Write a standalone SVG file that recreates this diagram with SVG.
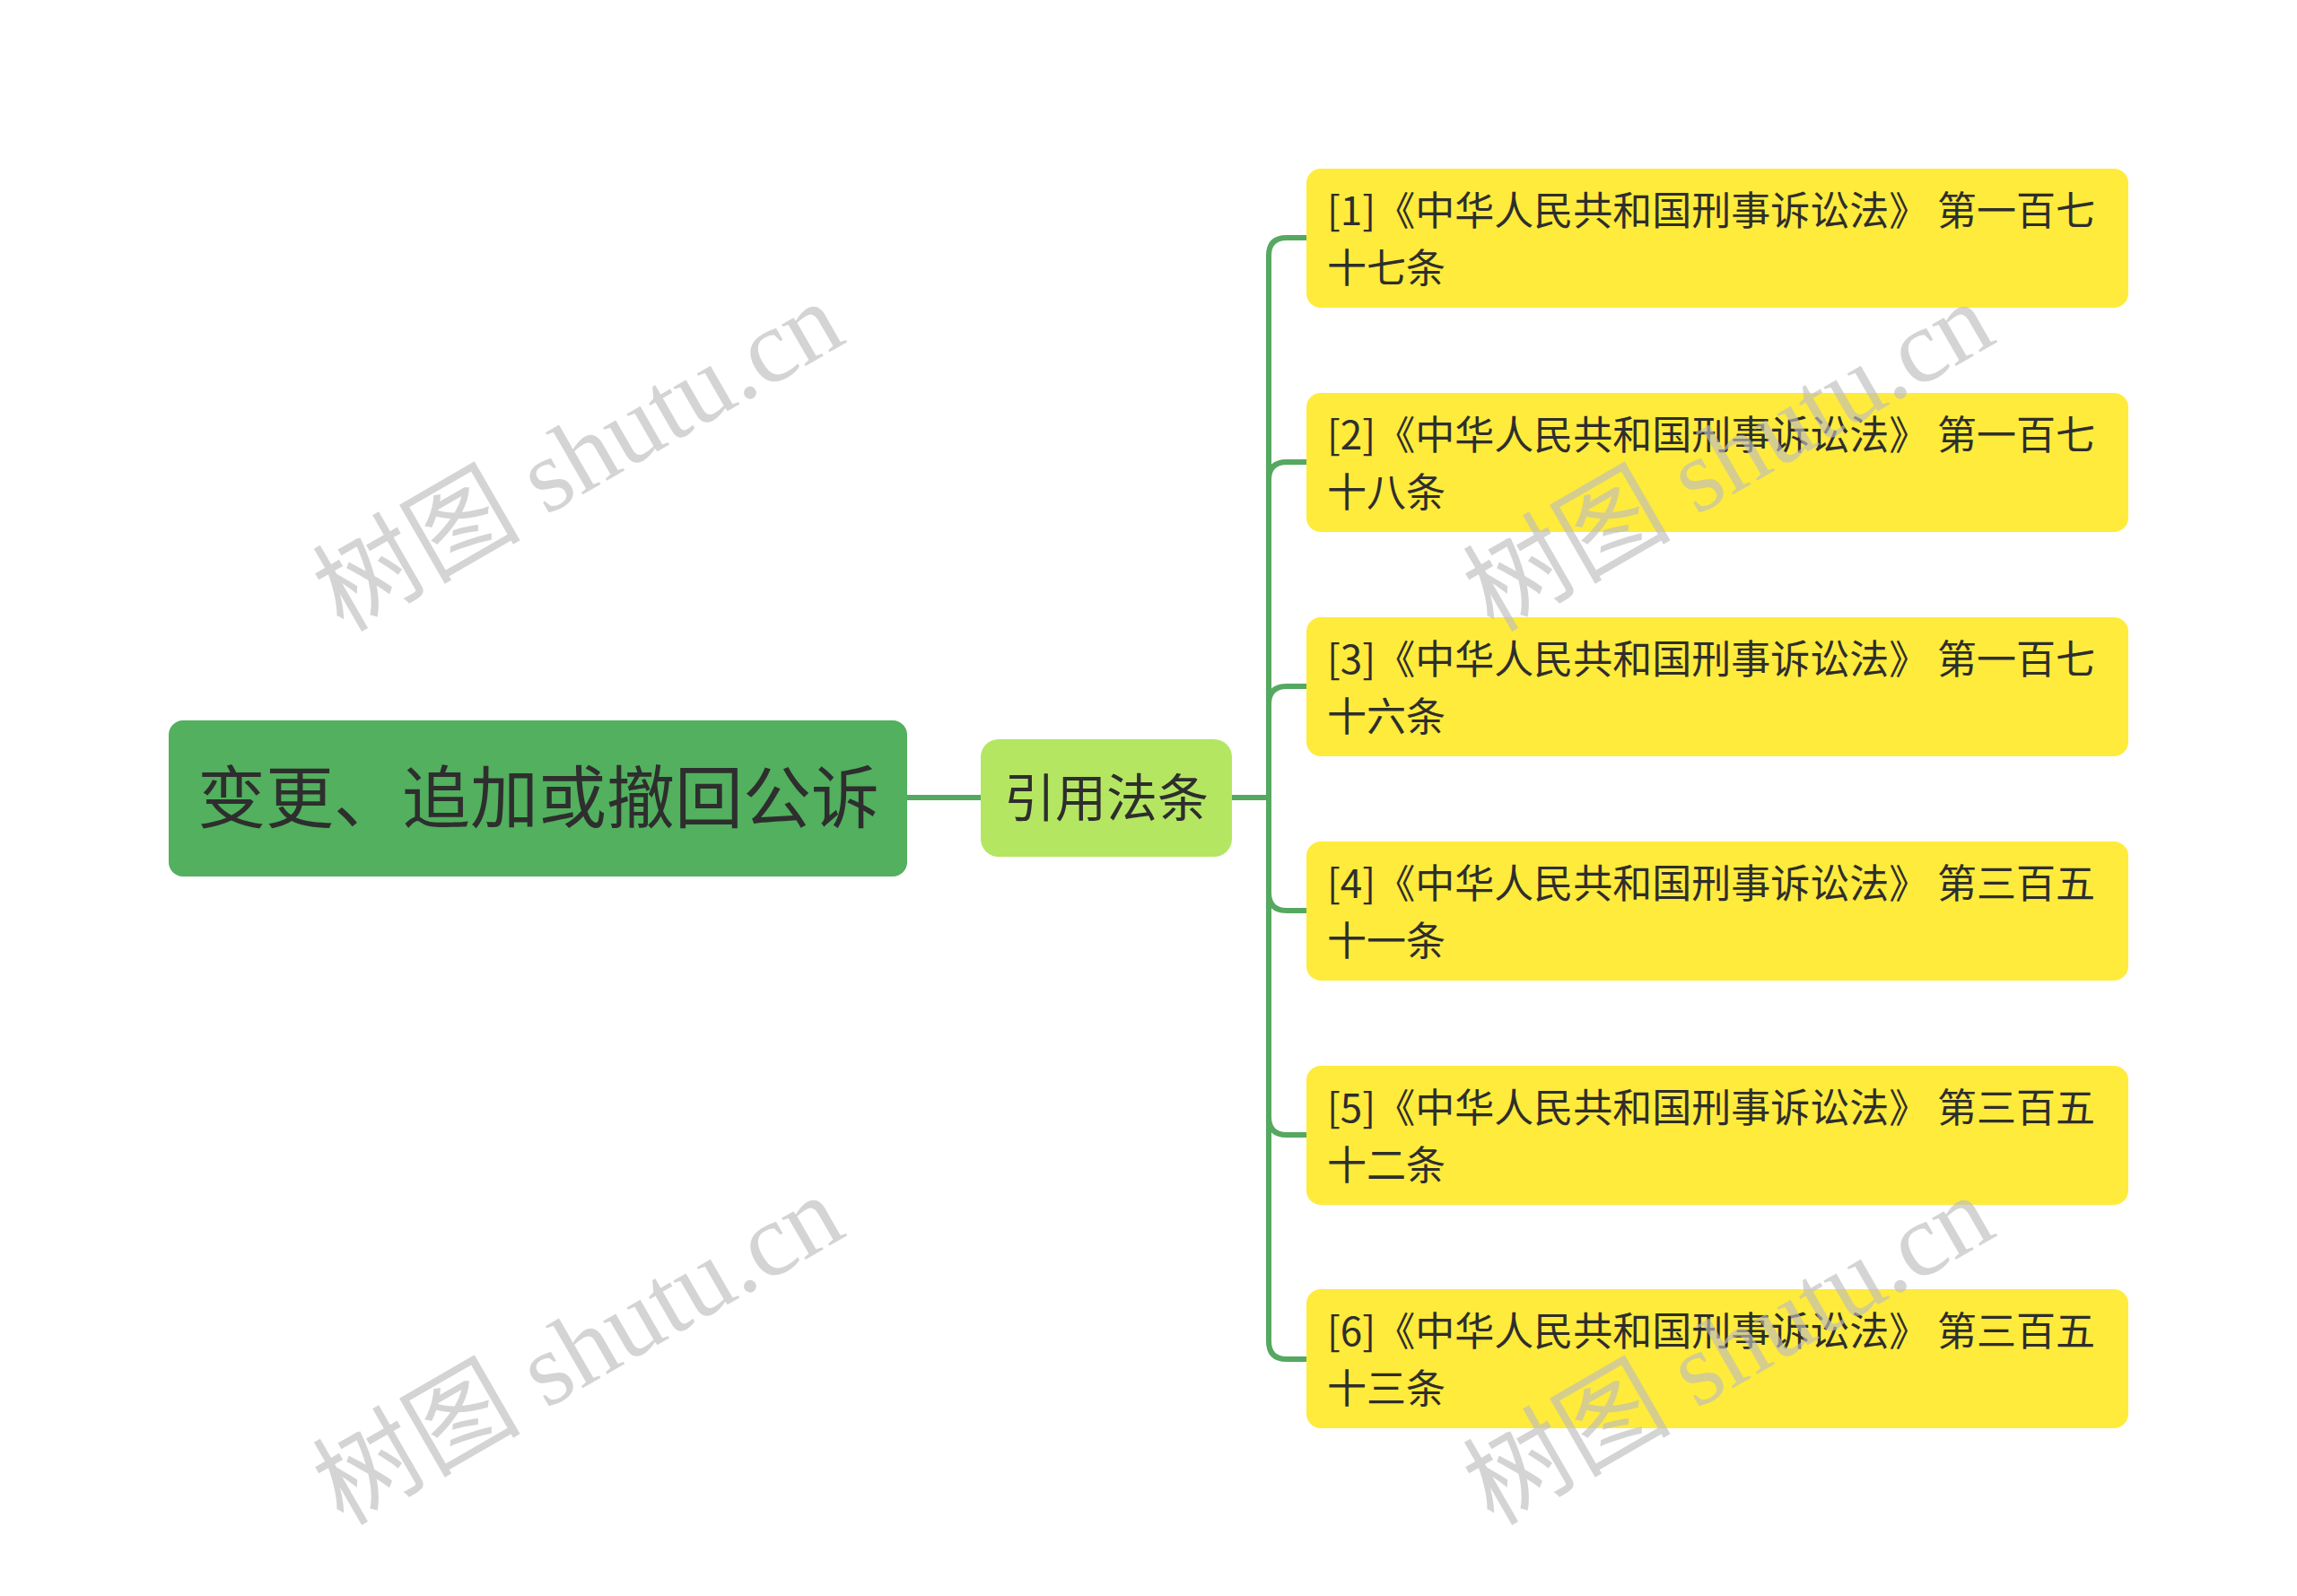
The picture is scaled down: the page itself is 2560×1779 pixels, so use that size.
<svg xmlns="http://www.w3.org/2000/svg" width="2560" height="1779" viewBox="0 0 2560 1779">
<style>
.t{font-family:"Noto Sans CJK SC","Noto Sans",sans-serif;fill:#2e2e2e}
.leaf rect{fill:#ffeb3b}
.leaf text{font-size:44px}
.conn{fill:none;stroke:#55a860;stroke-width:6}
.wm{font-family:"Liberation Serif","Noto Sans CJK SC",serif;font-size:116px;fill:#bdbdbd;fill-opacity:0.65}
</style>
<rect width="2560" height="1779" fill="#ffffff"/>
<g id="connectors" class="conn">
<path d="M1011,889 H1093"/>
<path d="M1373,889 H1414"/>
<path d="M1414,889 V285 Q1414,265 1434,265 H1456"/>
<path d="M1414,889 V535 Q1414,515 1434,515 H1456"/>
<path d="M1414,889 V785 Q1414,765 1434,765 H1456"/>
<path d="M1414,889 V995 Q1414,1015 1434,1015 H1456"/>
<path d="M1414,889 V1245 Q1414,1265 1434,1265 H1456"/>
<path d="M1414,889 V1495 Q1414,1515 1434,1515 H1456"/>
</g>
<g id="root">
<rect x="188" y="803" width="823" height="174" rx="16" fill="#52b05e"/>
<text class="t" x="600" y="917" font-size="76" text-anchor="middle">变更、追加或撤回公诉</text>
</g>
<g id="mid">
<rect x="1093" y="824" width="280" height="131" rx="20" fill="#b4e662"/>
<text class="t" x="1233" y="910" font-size="57" text-anchor="middle">引用法条</text>
</g>
<g id="leaf1" class="leaf">
<rect x="1456" y="188" width="916" height="155" rx="16"/>
<text class="t" x="1479" y="251">[1]《中华人民共和国刑事诉讼法》 第一百七</text>
<text class="t" x="1479" y="315">十七条</text>
</g>
<g id="leaf2" class="leaf">
<rect x="1456" y="438" width="916" height="155" rx="16"/>
<text class="t" x="1479" y="501">[2]《中华人民共和国刑事诉讼法》 第一百七</text>
<text class="t" x="1479" y="565">十八条</text>
</g>
<g id="leaf3" class="leaf">
<rect x="1456" y="688" width="916" height="155" rx="16"/>
<text class="t" x="1479" y="751">[3]《中华人民共和国刑事诉讼法》 第一百七</text>
<text class="t" x="1479" y="815">十六条</text>
</g>
<g id="leaf4" class="leaf">
<rect x="1456" y="938" width="916" height="155" rx="16"/>
<text class="t" x="1479" y="1001">[4]《中华人民共和国刑事诉讼法》 第三百五</text>
<text class="t" x="1479" y="1065">十一条</text>
</g>
<g id="leaf5" class="leaf">
<rect x="1456" y="1188" width="916" height="155" rx="16"/>
<text class="t" x="1479" y="1251">[5]《中华人民共和国刑事诉讼法》 第三百五</text>
<text class="t" x="1479" y="1315">十二条</text>
</g>
<g id="leaf6" class="leaf">
<rect x="1456" y="1437" width="916" height="155" rx="16"/>
<text class="t" x="1479" y="1500">[6]《中华人民共和国刑事诉讼法》 第三百五</text>
<text class="t" x="1479" y="1564">十三条</text>
</g>
<g id="watermarks" class="wm" text-anchor="middle">
<text transform="translate(645,510) rotate(-30)" y="38">树图 shutu.cn</text>
<text transform="translate(1927,510) rotate(-30)" y="38">树图 shutu.cn</text>
<text transform="translate(645,1506) rotate(-30)" y="38">树图 shutu.cn</text>
<text transform="translate(1927,1506) rotate(-30)" y="38">树图 shutu.cn</text>
</g>
</svg>
